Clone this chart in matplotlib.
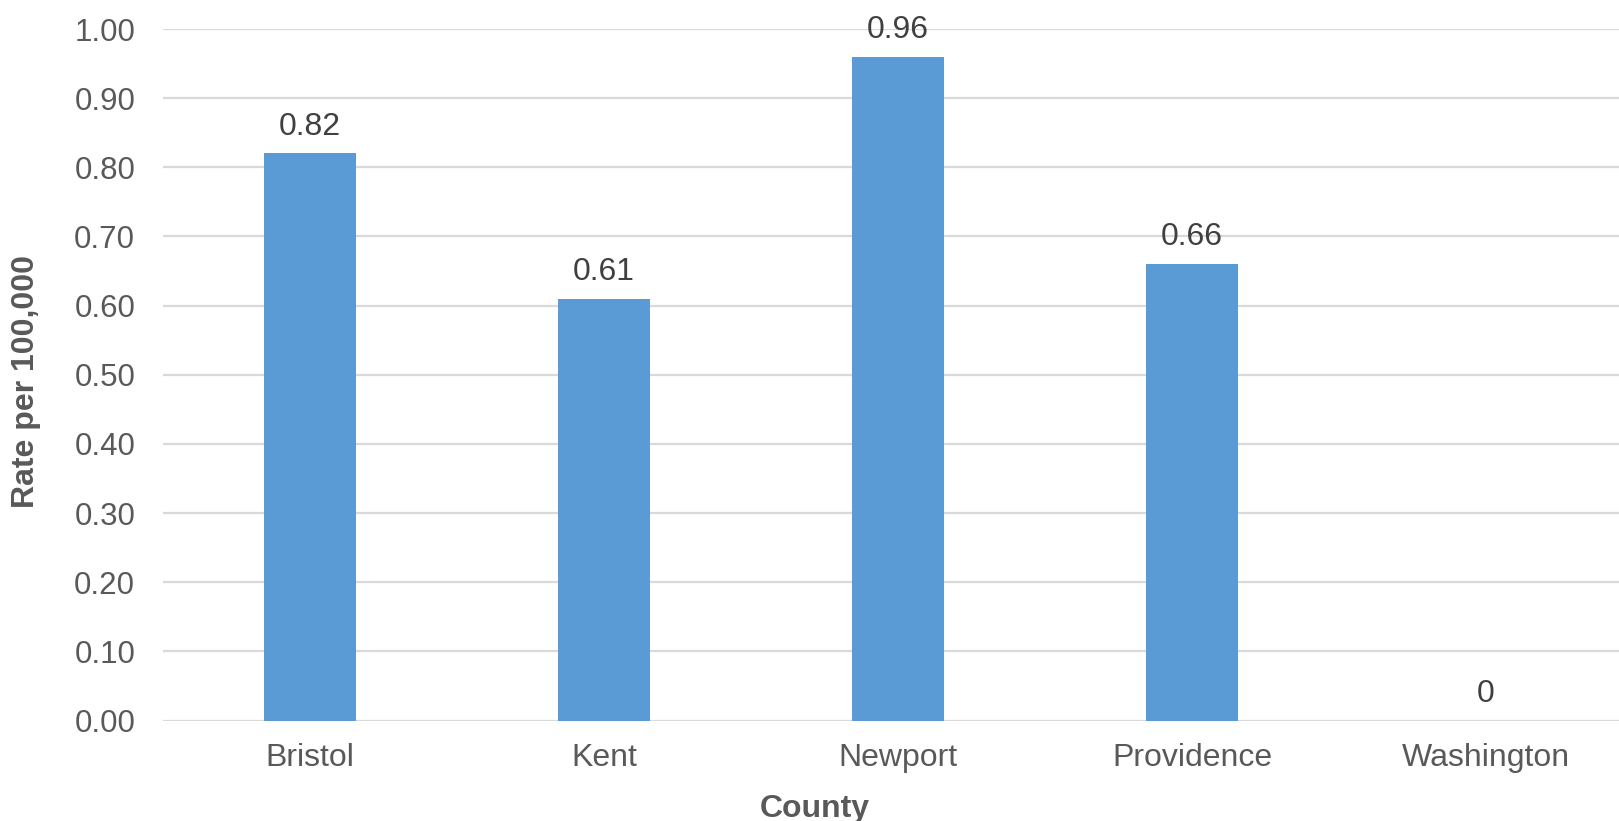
import matplotlib
matplotlib.use("Agg")
import matplotlib.pyplot as plt
import numpy as np

counties = ["Bristol", "Kent", "Newport", "Providence", "Washington"]
rates = [0.82, 0.61, 0.96, 0.66, 0.0]
rate_labels = ["0.82", "0.61", "0.96", "0.66", "0"]
y_ticks = [0.0, 0.1, 0.2, 0.3, 0.4, 0.5, 0.6, 0.7, 0.8, 0.9, 1.0]

plt.rcParams["font.family"] = ["Liberation Sans", "DejaVu Sans"]

W, H = 1619, 821
fig = plt.figure(figsize=(W / 100, H / 100), dpi=100)
ax = fig.add_axes([163 / W, 1 - 720.5 / H, 1470 / W, (720.5 - 29) / H])

x = np.arange(len(counties))
ax.bar(x, rates, width=0.313, color="#5B9BD5", zorder=3)

for xi, v, lab in zip(x, rates, rate_labels):
    ax.annotate(lab, (xi, v), xytext=(0, 13.5), textcoords="offset points",
                ha="center", va="baseline", fontsize=23, color="#404040", zorder=4)

ax.set_xlim(-0.5, len(counties) - 0.5)
ax.set_ylim(0, 1.0)
ax.set_yticks(y_ticks)
ax.set_yticklabels([f"{t:.2f}" for t in y_ticks])
ax.set_xticks(x)
ax.set_xticklabels(counties)

ax.yaxis.grid(True, color="#D9D9D9", linewidth=1.6, zorder=0)
ax.set_axisbelow(True)
for s in ax.spines.values():
    s.set_visible(False)
ax.tick_params(axis="both", length=0, labelcolor="#595959")
ax.tick_params(axis="y", pad=20, labelsize=22.5)
ax.tick_params(axis="x", pad=16, labelsize=23)

fig.text(26 / W, 1 - 381 / H, "Rate per 100,000", rotation=90, ha="center", va="center",
         fontsize=23, fontweight="bold", color="#595959")
fig.text(815 / W, 1 - 817 / H, "County", ha="center", va="baseline",
         fontsize=23, fontweight="bold", color="#595959")

fig.savefig("out.png", dpi=100, facecolor="white")
